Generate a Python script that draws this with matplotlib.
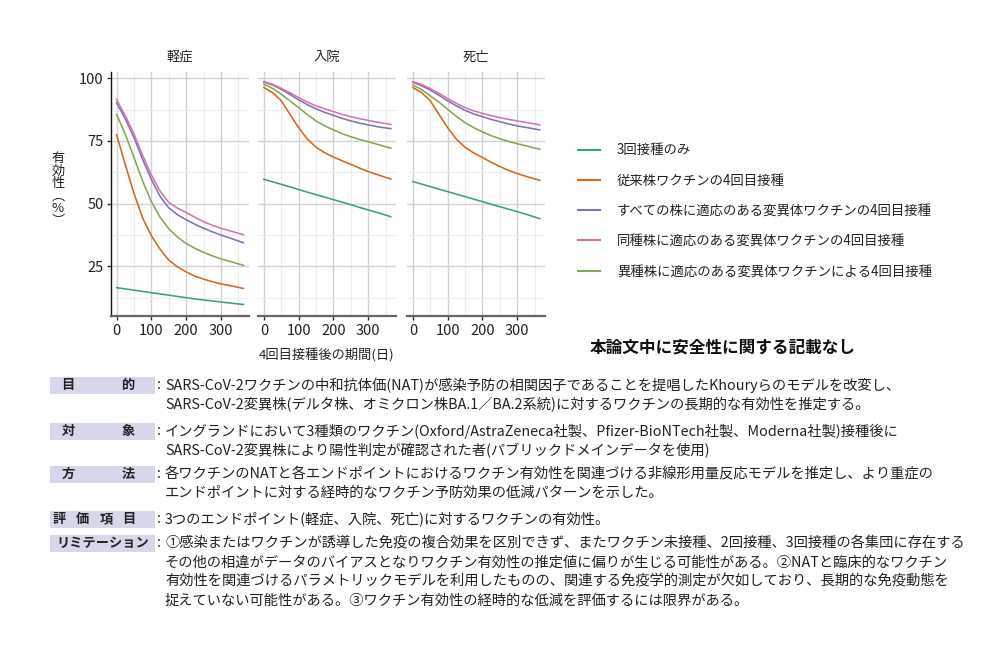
import matplotlib
matplotlib.use("Agg")
import matplotlib.pyplot as plt
from matplotlib.patches import Rectangle
from matplotlib.lines import Line2D
from matplotlib.ticker import MultipleLocator

plt.rcParams['font.family'] = ['Noto Sans CJK JP', 'DejaVu Sans']

# ---------------- data ----------------
days = [0, 25, 50, 75, 100, 125, 150, 175, 200, 225, 250, 275, 300, 330, 365]
panels = ["軽症", "入院", "死亡"]
series_names = ["3回接種のみ",
                "従来株ワクチンの4回目接種",
                "すべての株に適応のある変異体ワクチンの4回目接種",
                "同種株に適応のある変異体ワクチンの4回目接種",
                "異種株に適応のある変異体ワクチンによる4回目接種"]
colors = ['#3d9f82', '#d8661c', '#7b74b5', '#d674a8', '#80a856']

# 軽症
mild_third     = [16.5, 16.0, 15.5, 15.0, 14.5, 14.0, 13.5, 13.0, 12.5, 12.0, 11.6, 11.2, 10.8, 10.3, 9.8]
mild_ancestral = [77.5, 65.5, 54.1, 44.2, 37.2, 31.8, 27.5, 24.8, 22.8, 21.1, 19.9, 18.9, 18.0, 17.2, 16.2]
mild_all       = [90.2, 83.8, 76.4, 67.6, 59.7, 52.9, 48.3, 45.6, 43.6, 41.8, 40.2, 38.8, 37.5, 36.1, 34.4]
mild_homo      = [91.5, 85.0, 77.8, 69.2, 61.5, 55.0, 50.5, 48.2, 46.5, 44.6, 42.8, 41.4, 40.2, 39.0, 37.6]
mild_hetero    = [85.6, 77.7, 68.4, 59.0, 50.8, 44.6, 40.0, 36.7, 34.1, 32.2, 30.6, 29.2, 28.0, 26.8, 25.4]
# 入院
hosp_third     = [59.7, 58.7, 57.7, 56.7, 55.6, 54.6, 53.6, 52.6, 51.6, 50.6, 49.6, 48.5, 47.5, 46.3, 44.8]
hosp_ancestral = [96.3, 94.3, 91.0, 85.6, 80.3, 75.7, 72.5, 70.3, 68.6, 67.1, 65.7, 64.2, 62.8, 61.4, 59.8]
hosp_all       = [98.5, 97.3, 95.6, 93.5, 91.4, 89.5, 87.8, 86.4, 85.2, 84.0, 83.0, 82.1, 81.4, 80.6, 79.9]
hosp_homo      = [98.7, 97.6, 96.0, 94.2, 92.3, 90.5, 89.0, 87.8, 86.7, 85.6, 84.7, 83.9, 83.2, 82.4, 81.6]
hosp_hetero    = [97.6, 96.0, 93.6, 91.0, 88.3, 85.5, 83.0, 81.0, 79.4, 77.9, 76.7, 75.6, 74.7, 73.5, 72.1]
# 死亡
death_third     = [58.8, 57.8, 56.8, 55.8, 54.8, 53.8, 52.8, 51.8, 50.8, 49.8, 48.8, 47.8, 46.8, 45.6, 44.0]
death_ancestral = [96.3, 94.3, 91.0, 85.6, 80.3, 75.7, 72.5, 70.2, 68.4, 66.5, 64.8, 63.3, 62.0, 60.7, 59.3]
death_all       = [98.4, 97.0, 95.3, 93.2, 91.0, 89.0, 87.2, 85.8, 84.7, 83.6, 82.7, 81.8, 81.0, 80.3, 79.4]
death_homo      = [98.7, 97.5, 95.9, 94.0, 91.9, 90.0, 88.3, 87.0, 86.0, 85.1, 84.3, 83.6, 83.0, 82.3, 81.4]
death_hetero    = [97.3, 95.5, 93.0, 90.5, 87.6, 84.8, 82.3, 80.3, 78.6, 77.1, 75.9, 74.8, 73.9, 72.9, 71.7]

panel_data = [
    [mild_third, mild_ancestral, mild_all, mild_homo, mild_hetero],
    [hosp_third, hosp_ancestral, hosp_all, hosp_homo, hosp_hetero],
    [death_third, death_ancestral, death_all, death_homo, death_hetero],
]
xticks = [0, 100, 200, 300]
yticks = [25, 50, 75, 100]

labels = ["目的", "対象", "方法", "評価項目", "リミテーション"]
texts = [
    ["SARS-CoV-2ワクチンの中和抗体価(NAT)が感染予防の相関因子であることを提唱したKhouryらのモデルを改変し、",
     "SARS-CoV-2変異株(デルタ株、オミクロン株BA.1／BA.2系統)に対するワクチンの長期的な有効性を推定する。"],
    ["イングランドにおいて3種類のワクチン(Oxford/AstraZeneca社製、Pfizer-BioNTech社製、Moderna社製)接種後に",
     "SARS-CoV-2変異株により陽性判定が確認された者(パブリックドメインデータを使用)"],
    ["各ワクチンのNATと各エンドポイントにおけるワクチン有効性を関連づける非線形用量反応モデルを推定し、より重症の",
     "エンドポイントに対する経時的なワクチン予防効果の低減パターンを示した。"],
    ["3つのエンドポイント(軽症、入院、死亡)に対するワクチンの有効性。"],
    ["①感染またはワクチンが誘導した免疫の複合効果を区別できず、またワクチン未接種、2回接種、3回接種の各集団に存在する",
     "その他の相違がデータのバイアスとなりワクチン有効性の推定値に偏りが生じる可能性がある。②NATと臨床的なワクチン",
     "有効性を関連づけるパラメトリックモデルを利用したものの、関連する免疫学的測定が欠如しており、長期的な免疫動態を",
     "捉えていない可能性がある。③ワクチン有効性の経時的な低減を評価するには限界がある。"],
]

# ---------------- figure ----------------
W, H = 1000, 660
fig = plt.figure(figsize=(W / 100, H / 100), dpi=100)

def fx(px):
    return px / W

def fy(py):
    return 1 - py / H

lefts = [110.7, 258, 407]
top_px, bot_px = 72, 316
axes = []
for i, (left, title) in enumerate(zip(lefts, panels)):
    ax = fig.add_axes([fx(left), fy(bot_px), 138 / W, (bot_px - top_px) / H])
    axes.append(ax)
    for vals, c in zip(panel_data[i], colors):
        ax.plot(days, vals, color=c, lw=1.15, solid_joinstyle='round', zorder=3)
    ax.set_xlim(-17, 380)
    ax.set_ylim(5.2, 102.5)
    ax.set_xticks(xticks)
    ax.set_yticks(yticks)
    ax.xaxis.set_minor_locator(MultipleLocator(50))
    ax.yaxis.set_minor_locator(MultipleLocator(12.5))
    ax.grid(which='major', color='#d2d2d2', lw=1.0, zorder=0)
    ax.grid(which='minor', color='#ededed', lw=0.8, zorder=0)
    ax.tick_params(which='minor', length=0)
    ax.tick_params(axis='x', which='major', length=3, width=1, color='#333333',
                   labelsize=10.5, pad=3, labelcolor='#222222')
    for s in ['top', 'right']:
        ax.spines[s].set_visible(False)
    ax.spines['bottom'].set_color('#666666')
    ax.spines['bottom'].set_linewidth(1.6)
    if i == 0:
        ax.spines['left'].set_color('#111111')
        ax.spines['left'].set_linewidth(1.0)
        ax.tick_params(axis='y', which='major', length=3, width=1, color='#333333',
                       labelsize=10.5, pad=2, labelcolor='#222222')
    else:
        ax.spines['left'].set_visible(False)
        ax.tick_params(axis='y', which='major', length=0, labelleft=False)
    ax.set_axisbelow(True)
    ax.set_title(title, fontsize=9.5, pad=8, color='#222222')

# axis labels
fig.text(fx(58), fy(190), "有\n効\n性\n︵\n%\n︶", ha='center', va='center',
         fontsize=9.5, linespacing=0.95, color='#222222')
fig.text(fx(327), fy(355), "4回目接種後の期間(日)", ha='center', va='center',
         fontsize=9.5, color='#222222')

# legend
handles = [Line2D([0], [0], color=c, lw=1.5) for c in colors]
leg = fig.legend(handles, series_names, loc='upper left',
                 bbox_to_anchor=(fx(573), fy(138)), frameon=False,
                 fontsize=9.6, handlelength=1.6, handletextpad=1.3,
                 labelspacing=1.22, borderaxespad=0)
for t in leg.get_texts():
    t.set_color('#222222')

fig.text(fx(590), fy(348), "本論文中に安全性に関する記載なし", ha='left', va='center',
         fontsize=12, fontweight='bold', color='#111111')

# text block
row_starts = [385, 431, 474, 519, 543]
line_gap = 19.3
box_color = '#d6d7ea'
label_pos = [[68, 128], [68, 128], [68, 128], [59, 82, 106, 129], None]
for lab, ys, lines, pos in zip(labels, row_starts, texts, label_pos):
    fig.patches.append(Rectangle((fx(50), fy(ys + 8.5)), 105 / W, 17 / H,
                                 transform=fig.transFigure, facecolor=box_color,
                                 edgecolor='none', zorder=0))
    if pos is None:
        fig.text(fx(102.5), fy(ys), lab, ha='center', va='center', fontsize=9.5,
                 fontweight='bold', color='#222222')
    else:
        for ch, px in zip(lab, pos):
            fig.text(fx(px), fy(ys), ch, ha='center', va='center', fontsize=9.5,
                     fontweight='bold', color='#222222')
    fig.text(fx(157), fy(ys), ":", ha='left', va='center', fontsize=10.4, color='#222222')
    for k, line in enumerate(lines):
        fig.text(fx(165), fy(ys + k * line_gap), line, ha='left', va='center',
                 fontsize=10.3, color='#222222')

fig.savefig("out.png", dpi=100, facecolor='white')
